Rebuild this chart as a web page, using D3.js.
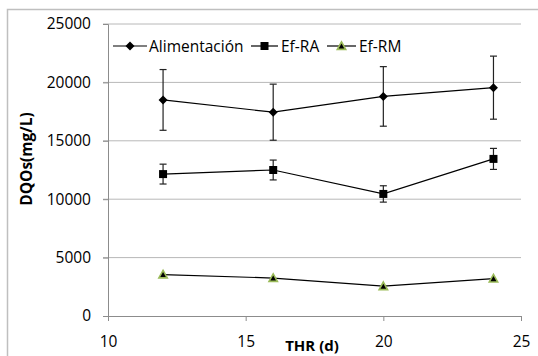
<!DOCTYPE html>
<html><head><meta charset="utf-8">
<script src="https://cdn.jsdelivr.net/npm/d3@7"></script>
<style>body{margin:0;background:#fff}svg{display:block}</style>
</head><body>
<script>
const xValues = [12, 16, 20, 24];
const seriesNames = ["Alimentación", "Ef-RA", "Ef-RM"];
const alimentacion = [18500, 17450, 18800, 19550];
const alimentacionErr = [2600, 2400, 2550, 2700];
const efRA = [12150, 12500, 10450, 13450];
const efRAErr = [850, 850, 700, 900];
const efRM = [3550, 3250, 2550, 3200];
const xTicks = [10, 15, 20, 25];
const yTicks = [0, 5000, 10000, 15000, 20000, 25000];

const W = 538, H = 356;
const svg = d3.select("body").append("svg").attr("width", W).attr("height", H);
const font = "'Open Sans', 'Noto Sans', sans-serif";

svg.append("rect").attr("x", 7.5).attr("y", 9.5).attr("width", 540).attr("height", 360)
  .attr("fill", "none").attr("stroke", "#bfbfbf").attr("stroke-width", 1.5);

const x = d3.scaleLinear().domain([10, 25]).range([108, 521]);
const y = d3.scaleLinear().domain([0, 25000]).range([316, 24]);

// gridlines
svg.append("g").selectAll("line").data(yTicks.filter(d => d > 0)).join("line")
  .attr("x1", 103).attr("x2", 521).attr("y1", d => y(d)).attr("y2", d => y(d))
  .attr("stroke", "#b8b8b8").attr("stroke-width", 1);

// y axis
const ya = svg.append("g").attr("transform", "translate(108,0)")
  .call(d3.axisLeft(y).tickValues(yTicks).tickSize(5).tickPadding(12).tickFormat(d3.format("d")));
ya.select(".domain").attr("stroke", "#8c8c8c");
ya.selectAll(".tick line").attr("stroke", "#8c8c8c");
ya.selectAll("text").attr("font-family", font).attr("font-size", 15.5).attr("fill", "#000");

// x axis
const xa = svg.append("g").attr("transform", "translate(0,316)")
  .call(d3.axisBottom(x).tickValues(xTicks).tickSize(5).tickPadding(15).tickFormat(d3.format("d")));
xa.select(".domain").attr("stroke", "#8c8c8c");
xa.selectAll(".tick line").attr("stroke", "#8c8c8c");
xa.selectAll("text").attr("font-family", font).attr("font-size", 15.5).attr("fill", "#000");

// axis titles
svg.append("text").attr("x", 312).attr("y", 350.5).attr("text-anchor", "middle")
  .attr("font-family", font).attr("font-size", 15).attr("font-weight", "bold").text("THR (d)");
svg.append("text").attr("transform", "translate(32,159) rotate(-90)").attr("text-anchor", "middle")
  .attr("font-family", font).attr("font-size", 15.5).attr("font-weight", "bold").text("DQOs(mg/L)");

const line = d3.line().x((d, i) => x(xValues[i])).y(d => y(d));

function errorBars(vals, errs) {
  const g = svg.append("g").attr("stroke", "#222").attr("stroke-width", 1.2);
  vals.forEach((v, i) => {
    const cx = x(xValues[i]);
    g.append("line").attr("x1", cx).attr("x2", cx).attr("y1", y(v + errs[i])).attr("y2", y(v - errs[i]));
    [v + errs[i], v - errs[i]].forEach(e =>
      g.append("line").attr("x1", cx - 3.5).attr("x2", cx + 3.5).attr("y1", y(e)).attr("y2", y(e)));
  });
}

const data = [alimentacion, efRA, efRM];
data.forEach(d => svg.append("path").attr("d", line(d)).attr("fill", "none").attr("stroke", "#000").attr("stroke-width", 1.2));
errorBars(alimentacion, alimentacionErr);
errorBars(efRA, efRAErr);

const diamond = s => `M0,${-s}L${s},0L0,${s}L${-s},0Z`;
const square = s => `M${-s},${-s}H${s}V${s}H${-s}Z`;
const tri = s => `M0,${-s}L${s},${s*0.8}H${-s}Z`;

function marker(g, type, cx, cy) {
  if (type === 0) g.append("path").attr("d", diamond(4.5)).attr("transform", `translate(${cx},${cy})`).attr("fill", "#000");
  else if (type === 1) g.append("path").attr("d", square(4)).attr("transform", `translate(${cx},${cy})`).attr("fill", "#000");
  else g.append("path").attr("d", tri(4.2)).attr("transform", `translate(${cx},${cy})`).attr("fill", "#000").attr("stroke", "#9bbb59").attr("stroke-width", 1.6);
}
data.forEach((d, k) => {
  const g = svg.append("g");
  d.forEach((v, i) => marker(g, k, x(xValues[i]), y(v)));
});

// legend
const legend = [{x1: 113, x2: 147, tx: 149}, {x1: 251, x2: 278, tx: 281}, {x1: 327, x2: 356, tx: 359}];
legend.forEach((L, k) => {
  const g = svg.append("g");
  g.append("line").attr("x1", L.x1).attr("x2", L.x2).attr("y1", 46).attr("y2", 46).attr("stroke", "#000").attr("stroke-width", 1.2);
  marker(g, k, (L.x1 + L.x2) / 2, 46);
  g.append("text").attr("x", L.tx).attr("y", 52).attr("font-family", font).attr("font-size", 15.5).text(seriesNames[k]);
});
</script>
</body></html>
